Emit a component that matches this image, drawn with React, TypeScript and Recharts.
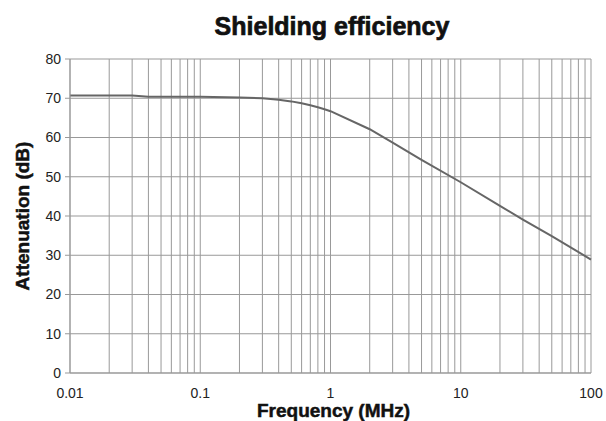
import { LineChart, Line, XAxis, YAxis, CartesianGrid, Label } from "recharts";

const frequencies = [0.01, 0.02, 0.03, 0.04, 0.05, 0.1, 0.2, 0.3, 0.4, 0.5, 0.6, 0.7, 0.8, 0.9, 1, 2, 3, 5, 10, 20, 30, 50, 100];
const attenuation = [70.7, 70.7, 70.7, 70.4, 70.4, 70.4, 70.2, 70.0, 69.6, 69.2, 68.7, 68.2, 67.7, 67.2, 66.7, 62.1, 58.7, 54.3, 48.6, 42.6, 39.1, 34.9, 28.9];

const xTicks = [
  0.01, 0.02, 0.03, 0.04, 0.05, 0.06, 0.07, 0.08, 0.09,
  0.1, 0.2, 0.3, 0.4, 0.5, 0.6, 0.7, 0.8, 0.9,
  1, 2, 3, 4, 5, 6, 7, 8, 9,
  10, 20, 30, 40, 50, 60, 70, 80, 90, 100,
];
const xLabels = [0.01, 0.1, 1, 10, 100];
const yTicks = [0, 10, 20, 30, 40, 50, 60, 70, 80];

const data = frequencies.map((f, i) => ({ f, db: attenuation[i] }));

const font = "'Liberation Sans', Arial, sans-serif";

export default function App() {
  return (
    <div style={{ position: "absolute", left: 0, top: 0, width: 606, height: 421, background: "#fff", fontFamily: font }}>
      <div
        style={{
          position: "absolute",
          top: 12,
          left: 0,
          width: 606,
          textAlign: "center",
          fontSize: 25,
          fontWeight: 900,
          color: "#111",
          paddingLeft: 58,
          boxSizing: "border-box",
          WebkitTextStroke: "0.7px #111",
        }}
      >
        Shielding efficiency
      </div>
      <LineChart width={606} height={421} data={data} margin={{ top: 59, right: 15, bottom: 0, left: 0 }}>
        <CartesianGrid stroke="#999" strokeWidth={1} />
        <XAxis
          dataKey="f"
          type="number"
          scale="log"
          domain={[0.01, 100]}
          ticks={xTicks}
          interval={0}
          height={48}
          tickLine={false}
          stroke="#999"
          tickSize={5}
          tickMargin={10}
          tick={{ fill: "#222", fontSize: 14, fontFamily: font }}
          tickFormatter={(v: number) => (xLabels.includes(v) ? String(v) : "")}
        >
          <Label
            content={({ viewBox }: any) => (
              <text
                x={viewBox.x + viewBox.width / 2 + 3}
                y={viewBox.y + 44}
                textAnchor="middle"
                fontSize={19}
                fontWeight={900}
                fill="#111"
                stroke="#111"
                strokeWidth={0.5}
                fontFamily={font}
              >
                Frequency (MHz)
              </text>
            )}
          />
        </XAxis>
        <YAxis
          type="number"
          domain={[0, 80]}
          ticks={yTicks}
          width={70}
          stroke="#999"
          tickSize={5}
          tickMargin={4}
          tick={{ fill: "#222", fontSize: 14, fontFamily: font }}
        >
          <Label
            content={({ viewBox }: any) => {
              const cx = 22;
              const cy = viewBox.y + viewBox.height / 2;
              return (
                <text
                  x={cx}
                  y={cy}
                  transform={`rotate(-90, ${cx}, ${cy})`}
                  textAnchor="middle"
                  dominantBaseline="central"
                  fontSize={19}
                  fontWeight={900}
                  fill="#111"
                  stroke="#111"
                  strokeWidth={0.5}
                  fontFamily={font}
                >
                  Attenuation (dB)
                </text>
              );
            }}
          />
        </YAxis>
        <Line
          type="linear"
          dataKey="db"
          stroke="#666"
          strokeWidth={2}
          dot={false}
          isAnimationActive={false}
        />
      </LineChart>
    </div>
  );
}
